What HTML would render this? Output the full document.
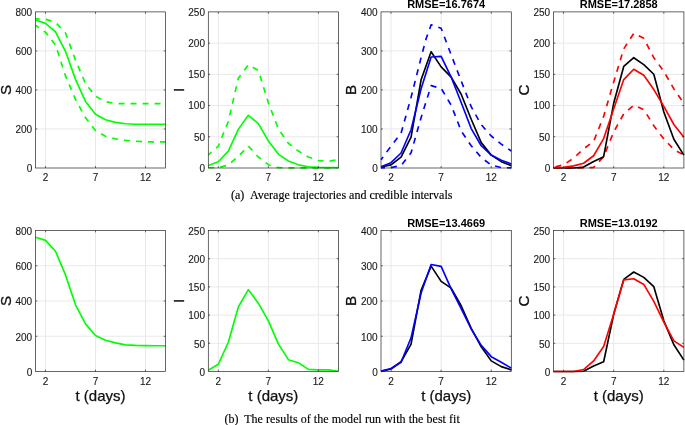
<!DOCTYPE html>
<html><head><meta charset="utf-8"><title>figure</title>
<style>
html,body{margin:0;padding:0;background:#fff;}
body{width:685px;height:425px;overflow:hidden;}
svg{display:block;will-change:transform;}
.gr{stroke:#e9e9e9;stroke-width:1;fill:none;}
.ax{stroke:#262626;stroke-width:0.7;fill:none;}
.tk{stroke:#262626;stroke-width:0.7;fill:none;}
polyline{fill:none;stroke-width:1.65;stroke-linejoin:round;stroke-linecap:butt;}
.da{stroke-dasharray:6 6;}
text{font-family:"Liberation Sans",sans-serif;}
.tl{font-size:10px;fill:#1a1a1a;stroke:#1a1a1a;stroke-width:0.12px;}
.yl{font-size:15.2px;fill:#111;stroke:#111;stroke-width:0.3px;}
.xl{font-size:15px;fill:#111;stroke:#111;stroke-width:0.25px;}
.ti{font-size:11px;font-weight:bold;fill:#000;}
.cap{font-family:"Liberation Serif",serif;font-size:12px;fill:#000;stroke:#000;stroke-width:0.15px;}
</style></head>
<body><svg width="685" height="425" viewBox="0 0 685 425">
<rect width="685" height="425" fill="#fff"/>
<line x1="45.5" y1="11.9" x2="45.5" y2="168" class="gr"/>
<line x1="95.5" y1="11.9" x2="95.5" y2="168" class="gr"/>
<line x1="145.5" y1="11.9" x2="145.5" y2="168" class="gr"/>
<line x1="35.5" y1="128.97" x2="165.5" y2="128.97" class="gr"/>
<line x1="35.5" y1="89.95" x2="165.5" y2="89.95" class="gr"/>
<line x1="35.5" y1="50.92" x2="165.5" y2="50.92" class="gr"/>
<polyline points="35.5,18.72 45.5,19.31 55.5,22.23 65.5,32.96 75.5,60.09 85.5,83.7 95.5,96.18 105.5,101.65 115.5,103.6 125.5,103.6 135.5,103.6 145.5,103.6 155.5,103.6 165.5,103.6" stroke="#00ff00" class="da" stroke-dashoffset="1.7"/>
<polyline points="35.5,25.16 45.5,32.38 55.5,44.87 65.5,75.89 75.5,99.31 85.5,117.84 95.5,130.53 105.5,136.18 115.5,138.92 125.5,140.28 135.5,141.26 145.5,141.84 155.5,141.84 165.5,141.84" stroke="#00ff00" class="da" stroke-dashoffset="1.9"/>
<polyline points="35.5,20.09 45.5,23.4 55.5,31.79 65.5,51.31 75.5,79.4 85.5,101.45 95.5,114.33 105.5,119.79 115.5,122.33 125.5,123.7 135.5,124.28 145.5,124.28 155.5,124.28 165.5,124.28" stroke="#00ff00"/>
<rect x="35.5" y="11.9" width="130" height="156.1" class="ax"/>
<path d="M45.5 11.9v1.8M45.5 168v-1.8" class="tk"/>
<path d="M95.5 11.9v1.8M95.5 168v-1.8" class="tk"/>
<path d="M145.5 11.9v1.8M145.5 168v-1.8" class="tk"/>
<path d="M35.5 128.97h1.8M165.5 128.97h-1.8" class="tk"/>
<path d="M35.5 89.95h1.8M165.5 89.95h-1.8" class="tk"/>
<path d="M35.5 50.92h1.8M165.5 50.92h-1.8" class="tk"/>
<text x="45.5" y="181.15" class="tl" text-anchor="middle">2</text>
<text x="95.5" y="181.15" class="tl" text-anchor="middle">7</text>
<text x="145.5" y="181.15" class="tl" text-anchor="middle">12</text>
<text x="32.2" y="171.85" class="tl" text-anchor="end">0</text>
<text x="32.2" y="132.82" class="tl" text-anchor="end">200</text>
<text x="32.2" y="93.8" class="tl" text-anchor="end">400</text>
<text x="32.2" y="54.77" class="tl" text-anchor="end">600</text>
<text x="32.2" y="15.75" class="tl" text-anchor="end">800</text>
<text transform="translate(10.8 89.95) rotate(-90)" class="yl" text-anchor="middle">S</text>
<line x1="218.31" y1="11.9" x2="218.31" y2="168" class="gr"/>
<line x1="268.35" y1="11.9" x2="268.35" y2="168" class="gr"/>
<line x1="318.38" y1="11.9" x2="318.38" y2="168" class="gr"/>
<line x1="208.3" y1="136.78" x2="338.4" y2="136.78" class="gr"/>
<line x1="208.3" y1="105.56" x2="338.4" y2="105.56" class="gr"/>
<line x1="208.3" y1="74.34" x2="338.4" y2="74.34" class="gr"/>
<line x1="208.3" y1="43.12" x2="338.4" y2="43.12" class="gr"/>
<polyline points="208.3,154.99 218.31,146.18 228.32,121.46 238.32,78.31 248.33,64.82 258.34,70.44 268.35,102.66 278.35,128.89 288.36,143.25 298.37,151.05 308.38,156.99 318.38,160.45 328.39,161.44 338.4,159.48" stroke="#00ff00" class="da" stroke-dashoffset="1.8"/>
<polyline points="208.3,167.8 218.31,167.67 228.32,165.05 238.32,156.36 248.33,146.06 258.34,156.99 268.35,164.72 278.35,167.67 288.36,167.87 298.37,167.87 308.38,167.87 318.38,167.87 328.39,167.87 338.4,167.87" stroke="#00ff00" class="da"/>
<polyline points="208.3,165.51 218.31,161.76 228.32,151.12 238.32,129.39 248.33,115.28 258.34,123.58 268.35,140.88 278.35,154.11 288.36,161.04 298.37,164.85 308.38,166.75 318.38,167.34 328.39,167.47 338.4,167.67" stroke="#00ff00"/>
<rect x="208.3" y="11.9" width="130.1" height="156.1" class="ax"/>
<path d="M218.31 11.9v1.8M218.31 168v-1.8" class="tk"/>
<path d="M268.35 11.9v1.8M268.35 168v-1.8" class="tk"/>
<path d="M318.38 11.9v1.8M318.38 168v-1.8" class="tk"/>
<path d="M208.3 136.78h1.8M338.4 136.78h-1.8" class="tk"/>
<path d="M208.3 105.56h1.8M338.4 105.56h-1.8" class="tk"/>
<path d="M208.3 74.34h1.8M338.4 74.34h-1.8" class="tk"/>
<path d="M208.3 43.12h1.8M338.4 43.12h-1.8" class="tk"/>
<text x="218.31" y="181.15" class="tl" text-anchor="middle">2</text>
<text x="268.35" y="181.15" class="tl" text-anchor="middle">7</text>
<text x="318.38" y="181.15" class="tl" text-anchor="middle">12</text>
<text x="205" y="171.85" class="tl" text-anchor="end">0</text>
<text x="205" y="140.63" class="tl" text-anchor="end">50</text>
<text x="205" y="109.41" class="tl" text-anchor="end">100</text>
<text x="205" y="78.19" class="tl" text-anchor="end">150</text>
<text x="205" y="46.97" class="tl" text-anchor="end">200</text>
<text x="205" y="15.75" class="tl" text-anchor="end">250</text>
<text transform="translate(183.6 89.95) rotate(-90)" class="yl" text-anchor="middle">I</text>
<line x1="391.02" y1="11.9" x2="391.02" y2="168" class="gr"/>
<line x1="441.14" y1="11.9" x2="441.14" y2="168" class="gr"/>
<line x1="491.25" y1="11.9" x2="491.25" y2="168" class="gr"/>
<line x1="381" y1="128.97" x2="511.3" y2="128.97" class="gr"/>
<line x1="381" y1="89.95" x2="511.3" y2="89.95" class="gr"/>
<line x1="381" y1="50.92" x2="511.3" y2="50.92" class="gr"/>
<polyline points="381,159.79 391.02,146.14 401.05,133.26 411.07,97.35 421.09,57.55 426.1,38.82 431.12,24.77 441.14,28.28 451.16,54.82 461.18,80.96 471.21,106.72 481.23,124.67 491.25,135.99 501.28,144.19 511.3,151.01" stroke="#0000ff" class="da" stroke-dashoffset="2.5"/>
<polyline points="381,167.92 391.02,167.59 401.05,165.54 411.07,152.77 421.09,117.65 431.12,85.65 441.14,88.38 451.16,105.16 461.18,130.92 471.21,145.75 481.23,157.45 491.25,165.13 501.28,167.59 511.3,167.88" stroke="#0000ff" class="da" stroke-dashoffset="2.0"/>
<polyline points="381,167.06 391.02,164.84 401.05,157.18 411.07,137.16 421.09,79.79 431.12,51.7 441.14,66.92 451.16,77.06 461.18,94.23 471.21,119.21 481.23,142.62 491.25,155.11 501.28,161.68 511.3,165.7" stroke="#000000"/>
<polyline points="381,166.65 391.02,162.67 401.05,153 411.07,129.75 421.09,88.77 431.12,56.96 441.14,56.38 451.16,77.06 461.18,102.43 471.21,128.57 481.23,145.75 491.25,155.11 501.28,160.21 511.3,163.9" stroke="#0000ff"/>
<rect x="381" y="11.9" width="130.3" height="156.1" class="ax"/>
<path d="M391.02 11.9v1.8M391.02 168v-1.8" class="tk"/>
<path d="M441.14 11.9v1.8M441.14 168v-1.8" class="tk"/>
<path d="M491.25 11.9v1.8M491.25 168v-1.8" class="tk"/>
<path d="M381 128.97h1.8M511.3 128.97h-1.8" class="tk"/>
<path d="M381 89.95h1.8M511.3 89.95h-1.8" class="tk"/>
<path d="M381 50.92h1.8M511.3 50.92h-1.8" class="tk"/>
<text x="391.02" y="181.15" class="tl" text-anchor="middle">2</text>
<text x="441.14" y="181.15" class="tl" text-anchor="middle">7</text>
<text x="491.25" y="181.15" class="tl" text-anchor="middle">12</text>
<text x="377.7" y="171.85" class="tl" text-anchor="end">0</text>
<text x="377.7" y="132.82" class="tl" text-anchor="end">100</text>
<text x="377.7" y="93.8" class="tl" text-anchor="end">200</text>
<text x="377.7" y="54.77" class="tl" text-anchor="end">300</text>
<text x="377.7" y="15.75" class="tl" text-anchor="end">400</text>
<text transform="translate(356.3 89.95) rotate(-90)" class="yl" text-anchor="middle">B</text>
<text x="446.15" y="8.1" class="ti" text-anchor="middle">RMSE=16.7674</text>
<line x1="563.53" y1="11.9" x2="563.53" y2="168" class="gr"/>
<line x1="613.68" y1="11.9" x2="613.68" y2="168" class="gr"/>
<line x1="663.84" y1="11.9" x2="663.84" y2="168" class="gr"/>
<line x1="553.5" y1="136.78" x2="683.9" y2="136.78" class="gr"/>
<line x1="553.5" y1="105.56" x2="683.9" y2="105.56" class="gr"/>
<line x1="553.5" y1="74.34" x2="683.9" y2="74.34" class="gr"/>
<line x1="553.5" y1="43.12" x2="683.9" y2="43.12" class="gr"/>
<polyline points="553.5,167.34 563.53,164.85 573.56,158.23 583.59,148.87 593.62,141.38 603.65,116.4 613.68,82.06 623.72,48.96 633.75,33.35 643.78,38.35 653.81,57.71 663.84,71.44 673.87,88.93 683.9,103.29" stroke="#ff0000" class="da" stroke-dashoffset="-2"/>
<polyline points="553.5,168 563.53,168 573.56,168 583.59,168 593.62,167.34 603.65,156.67 613.68,132.01 623.72,113.9 633.75,105.16 643.78,109.53 653.81,125.77 663.84,138.88 673.87,149.49 683.9,155.11" stroke="#ff0000" class="da"/>
<polyline points="553.5,168 563.53,168 573.56,168 583.59,167.08 593.62,161.44 603.65,156.67 613.68,103.29 623.72,66.45 633.75,57.71 643.78,64.57 653.81,74.25 663.84,112.03 673.87,139.25 683.9,155.11" stroke="#000000"/>
<polyline points="553.5,167.67 563.53,167.34 573.56,165.9 583.59,163.27 593.62,155.74 603.65,138.57 613.68,108.91 623.72,79.56 633.75,69.26 643.78,75.19 653.81,89.55 663.84,106.41 673.87,124.52 683.9,137.19" stroke="#ff0000"/>
<rect x="553.5" y="11.9" width="130.4" height="156.1" class="ax"/>
<path d="M563.53 11.9v1.8M563.53 168v-1.8" class="tk"/>
<path d="M613.68 11.9v1.8M613.68 168v-1.8" class="tk"/>
<path d="M663.84 11.9v1.8M663.84 168v-1.8" class="tk"/>
<path d="M553.5 136.78h1.8M683.9 136.78h-1.8" class="tk"/>
<path d="M553.5 105.56h1.8M683.9 105.56h-1.8" class="tk"/>
<path d="M553.5 74.34h1.8M683.9 74.34h-1.8" class="tk"/>
<path d="M553.5 43.12h1.8M683.9 43.12h-1.8" class="tk"/>
<text x="563.53" y="181.15" class="tl" text-anchor="middle">2</text>
<text x="613.68" y="181.15" class="tl" text-anchor="middle">7</text>
<text x="663.84" y="181.15" class="tl" text-anchor="middle">12</text>
<text x="550.2" y="171.85" class="tl" text-anchor="end">0</text>
<text x="550.2" y="140.63" class="tl" text-anchor="end">50</text>
<text x="550.2" y="109.41" class="tl" text-anchor="end">100</text>
<text x="550.2" y="78.19" class="tl" text-anchor="end">150</text>
<text x="550.2" y="46.97" class="tl" text-anchor="end">200</text>
<text x="550.2" y="15.75" class="tl" text-anchor="end">250</text>
<text transform="translate(528.8 89.95) rotate(-90)" class="yl" text-anchor="middle">C</text>
<text x="618.7" y="8.1" class="ti" text-anchor="middle">RMSE=17.2858</text>
<line x1="45.5" y1="230.5" x2="45.5" y2="371.5" class="gr"/>
<line x1="95.5" y1="230.5" x2="95.5" y2="371.5" class="gr"/>
<line x1="145.5" y1="230.5" x2="145.5" y2="371.5" class="gr"/>
<line x1="35.5" y1="336.25" x2="165.5" y2="336.25" class="gr"/>
<line x1="35.5" y1="301" x2="165.5" y2="301" class="gr"/>
<line x1="35.5" y1="265.75" x2="165.5" y2="265.75" class="gr"/>
<polyline points="35.5,237.17 45.5,240.35 55.5,251.27 65.5,274.89 75.5,304.85 85.5,323.89 95.5,335.52 105.5,340.28 115.5,342.92 125.5,344.86 135.5,345.39 145.5,345.57 155.5,345.74 165.5,345.74" stroke="#00ff00"/>
<rect x="35.5" y="230.5" width="130" height="141" class="ax"/>
<path d="M45.5 230.5v1.8M45.5 371.5v-1.8" class="tk"/>
<path d="M95.5 230.5v1.8M95.5 371.5v-1.8" class="tk"/>
<path d="M145.5 230.5v1.8M145.5 371.5v-1.8" class="tk"/>
<path d="M35.5 336.25h1.8M165.5 336.25h-1.8" class="tk"/>
<path d="M35.5 301h1.8M165.5 301h-1.8" class="tk"/>
<path d="M35.5 265.75h1.8M165.5 265.75h-1.8" class="tk"/>
<text x="45.5" y="384.65" class="tl" text-anchor="middle">2</text>
<text x="95.5" y="384.65" class="tl" text-anchor="middle">7</text>
<text x="145.5" y="384.65" class="tl" text-anchor="middle">12</text>
<text x="32.2" y="375.75" class="tl" text-anchor="end">0</text>
<text x="32.2" y="340.5" class="tl" text-anchor="end">200</text>
<text x="32.2" y="305.25" class="tl" text-anchor="end">400</text>
<text x="32.2" y="270" class="tl" text-anchor="end">600</text>
<text x="32.2" y="234.75" class="tl" text-anchor="end">800</text>
<text transform="translate(10.8 301) rotate(-90)" class="yl" text-anchor="middle">S</text>
<text x="100.5" y="401.4" class="xl" text-anchor="middle">t (days)</text>
<line x1="218.31" y1="230.5" x2="218.31" y2="371.5" class="gr"/>
<line x1="268.35" y1="230.5" x2="268.35" y2="371.5" class="gr"/>
<line x1="318.38" y1="230.5" x2="318.38" y2="371.5" class="gr"/>
<line x1="208.3" y1="343.3" x2="338.4" y2="343.3" class="gr"/>
<line x1="208.3" y1="315.1" x2="338.4" y2="315.1" class="gr"/>
<line x1="208.3" y1="286.9" x2="338.4" y2="286.9" class="gr"/>
<line x1="208.3" y1="258.7" x2="338.4" y2="258.7" class="gr"/>
<polyline points="208.3,370.17 218.31,364.31 228.32,342.25 238.32,307 248.33,289.63 258.34,303.17 268.35,320.82 278.35,343.89 288.36,359.68 298.37,362.67 308.38,369.41 318.38,369.93 328.39,369.93 338.4,371.21" stroke="#00ff00"/>
<rect x="208.3" y="230.5" width="130.1" height="141" class="ax"/>
<path d="M218.31 230.5v1.8M218.31 371.5v-1.8" class="tk"/>
<path d="M268.35 230.5v1.8M268.35 371.5v-1.8" class="tk"/>
<path d="M318.38 230.5v1.8M318.38 371.5v-1.8" class="tk"/>
<path d="M208.3 343.3h1.8M338.4 343.3h-1.8" class="tk"/>
<path d="M208.3 315.1h1.8M338.4 315.1h-1.8" class="tk"/>
<path d="M208.3 286.9h1.8M338.4 286.9h-1.8" class="tk"/>
<path d="M208.3 258.7h1.8M338.4 258.7h-1.8" class="tk"/>
<text x="218.31" y="384.65" class="tl" text-anchor="middle">2</text>
<text x="268.35" y="384.65" class="tl" text-anchor="middle">7</text>
<text x="318.38" y="384.65" class="tl" text-anchor="middle">12</text>
<text x="205" y="375.75" class="tl" text-anchor="end">0</text>
<text x="205" y="347.55" class="tl" text-anchor="end">50</text>
<text x="205" y="319.35" class="tl" text-anchor="end">100</text>
<text x="205" y="291.15" class="tl" text-anchor="end">150</text>
<text x="205" y="262.95" class="tl" text-anchor="end">200</text>
<text x="205" y="234.75" class="tl" text-anchor="end">250</text>
<text transform="translate(183.6 301) rotate(-90)" class="yl" text-anchor="middle">I</text>
<text x="273.35" y="401.4" class="xl" text-anchor="middle">t (days)</text>
<line x1="391.02" y1="230.5" x2="391.02" y2="371.5" class="gr"/>
<line x1="441.14" y1="230.5" x2="441.14" y2="371.5" class="gr"/>
<line x1="491.25" y1="230.5" x2="491.25" y2="371.5" class="gr"/>
<line x1="381" y1="336.25" x2="511.3" y2="336.25" class="gr"/>
<line x1="381" y1="301" x2="511.3" y2="301" class="gr"/>
<line x1="381" y1="265.75" x2="511.3" y2="265.75" class="gr"/>
<polyline points="381,371.39 391.02,368.96 401.05,361.78 411.07,344.16 421.09,290.23 431.12,266.08 441.14,281.41 451.16,288.11 461.18,305.74 471.21,328.3 481.23,346.77 491.25,360.87 501.28,366.64 511.3,369.87" stroke="#000000"/>
<polyline points="381,371.1 391.02,368.53 401.05,362.31 411.07,337.81 421.09,293.05 431.12,264.49 441.14,266.43 451.16,288.81 461.18,308.56 471.21,329 481.23,345.36 491.25,356.67 501.28,362.28 511.3,368.09" stroke="#0000ff"/>
<rect x="381" y="230.5" width="130.3" height="141" class="ax"/>
<path d="M391.02 230.5v1.8M391.02 371.5v-1.8" class="tk"/>
<path d="M441.14 230.5v1.8M441.14 371.5v-1.8" class="tk"/>
<path d="M491.25 230.5v1.8M491.25 371.5v-1.8" class="tk"/>
<path d="M381 336.25h1.8M511.3 336.25h-1.8" class="tk"/>
<path d="M381 301h1.8M511.3 301h-1.8" class="tk"/>
<path d="M381 265.75h1.8M511.3 265.75h-1.8" class="tk"/>
<text x="391.02" y="384.65" class="tl" text-anchor="middle">2</text>
<text x="441.14" y="384.65" class="tl" text-anchor="middle">7</text>
<text x="491.25" y="384.65" class="tl" text-anchor="middle">12</text>
<text x="377.7" y="375.75" class="tl" text-anchor="end">0</text>
<text x="377.7" y="340.5" class="tl" text-anchor="end">100</text>
<text x="377.7" y="305.25" class="tl" text-anchor="end">200</text>
<text x="377.7" y="270" class="tl" text-anchor="end">300</text>
<text x="377.7" y="234.75" class="tl" text-anchor="end">400</text>
<text transform="translate(356.3 301) rotate(-90)" class="yl" text-anchor="middle">B</text>
<text x="446.15" y="226.7" class="ti" text-anchor="middle">RMSE=13.4669</text>
<text x="446.15" y="401.4" class="xl" text-anchor="middle">t (days)</text>
<line x1="563.53" y1="230.5" x2="563.53" y2="371.5" class="gr"/>
<line x1="613.68" y1="230.5" x2="613.68" y2="371.5" class="gr"/>
<line x1="663.84" y1="230.5" x2="663.84" y2="371.5" class="gr"/>
<line x1="553.5" y1="343.3" x2="683.9" y2="343.3" class="gr"/>
<line x1="553.5" y1="315.1" x2="683.9" y2="315.1" class="gr"/>
<line x1="553.5" y1="286.9" x2="683.9" y2="286.9" class="gr"/>
<line x1="553.5" y1="258.7" x2="683.9" y2="258.7" class="gr"/>
<polyline points="553.5,371.5 563.53,371.5 573.56,371.5 583.59,371.21 593.62,366.05 603.65,361.71 613.68,314.34 623.72,279.37 633.75,272.04 643.78,277.39 653.81,286.7 663.84,320.82 673.87,344.79 683.9,360.08" stroke="#000000"/>
<polyline points="553.5,371.5 563.53,371.5 573.56,371.5 583.59,369.53 593.62,360.98 603.65,346.48 613.68,314.34 623.72,279.93 633.75,278.8 643.78,284.44 653.81,301.36 663.84,322.23 673.87,340.84 683.9,347.33" stroke="#ff0000"/>
<rect x="553.5" y="230.5" width="130.4" height="141" class="ax"/>
<path d="M563.53 230.5v1.8M563.53 371.5v-1.8" class="tk"/>
<path d="M613.68 230.5v1.8M613.68 371.5v-1.8" class="tk"/>
<path d="M663.84 230.5v1.8M663.84 371.5v-1.8" class="tk"/>
<path d="M553.5 343.3h1.8M683.9 343.3h-1.8" class="tk"/>
<path d="M553.5 315.1h1.8M683.9 315.1h-1.8" class="tk"/>
<path d="M553.5 286.9h1.8M683.9 286.9h-1.8" class="tk"/>
<path d="M553.5 258.7h1.8M683.9 258.7h-1.8" class="tk"/>
<text x="563.53" y="384.65" class="tl" text-anchor="middle">2</text>
<text x="613.68" y="384.65" class="tl" text-anchor="middle">7</text>
<text x="663.84" y="384.65" class="tl" text-anchor="middle">12</text>
<text x="550.2" y="375.75" class="tl" text-anchor="end">0</text>
<text x="550.2" y="347.55" class="tl" text-anchor="end">50</text>
<text x="550.2" y="319.35" class="tl" text-anchor="end">100</text>
<text x="550.2" y="291.15" class="tl" text-anchor="end">150</text>
<text x="550.2" y="262.95" class="tl" text-anchor="end">200</text>
<text x="550.2" y="234.75" class="tl" text-anchor="end">250</text>
<text transform="translate(528.8 301) rotate(-90)" class="yl" text-anchor="middle">C</text>
<text x="618.7" y="226.7" class="ti" text-anchor="middle">RMSE=13.0192</text>
<text x="618.7" y="401.4" class="xl" text-anchor="middle">t (days)</text>
<text x="231" y="198.6" class="cap">(a)</text><text x="250" y="198.6" class="cap" textLength="202.4" lengthAdjust="spacing">Average trajectories and credible intervals</text>
<text x="224.6" y="422.5" class="cap">(b)</text><text x="244.2" y="422.5" class="cap" textLength="215.6" lengthAdjust="spacing">The results of the model run with the best fit</text>
</svg></body></html>
